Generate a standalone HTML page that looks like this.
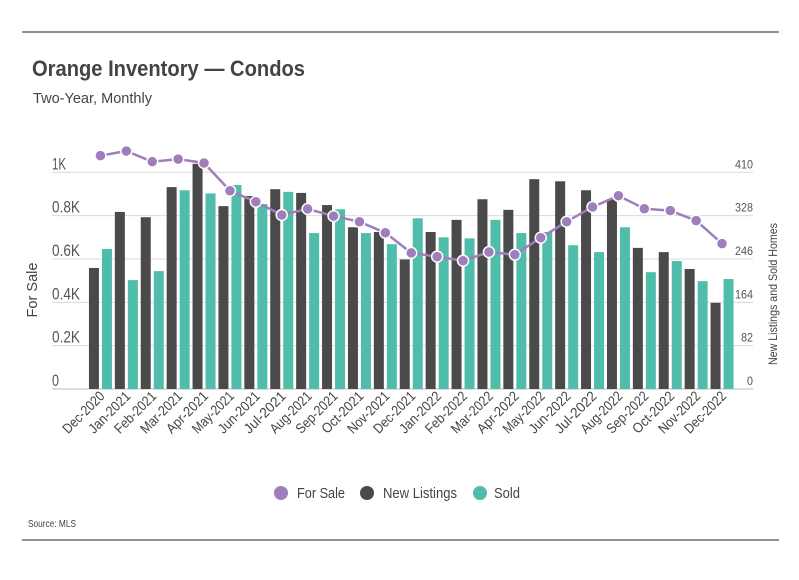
<!DOCTYPE html>
<html><head><meta charset="utf-8"><style>
body{margin:0;background:#fff;font-family:"Liberation Sans",sans-serif;}
svg text{font-family:"Liberation Sans",sans-serif;}
</style></head><body>
<svg id="c" width="799" height="575" viewBox="0 0 799 575">
<line x1="22" y1="32" x2="779" y2="32" stroke="#222" stroke-width="1"/>
<text x="32" y="76" font-size="22" font-weight="bold" fill="#444" textLength="273" lengthAdjust="spacingAndGlyphs">Orange Inventory — Condos</text>
<text x="33" y="103" font-size="15" fill="#444" textLength="119" lengthAdjust="spacingAndGlyphs">Two-Year, Monthly</text>
<text transform="translate(37,290) rotate(-90)" text-anchor="middle" font-size="15" fill="#444" textLength="55" lengthAdjust="spacingAndGlyphs">For Sale</text>
<text transform="translate(777,294) rotate(-90)" text-anchor="middle" font-size="12" fill="#444" textLength="142" lengthAdjust="spacingAndGlyphs">New Listings and Sold Homes</text>
<g id="grid"></g><g id="bars"></g><g id="line"></g><g id="xlabels"></g>
<g>
<circle cx="281" cy="493" r="7" fill="#a07dbb"/>
<text x="297" y="498" font-size="15" fill="#444" textLength="48" lengthAdjust="spacingAndGlyphs">For Sale</text>
<circle cx="367" cy="493" r="7" fill="#4a4a4a"/>
<text x="383" y="498" font-size="15" fill="#444" textLength="74" lengthAdjust="spacingAndGlyphs">New Listings</text>
<circle cx="480" cy="493" r="7" fill="#50bcaa"/>
<text x="494" y="498" font-size="15" fill="#444" textLength="26" lengthAdjust="spacingAndGlyphs">Sold</text>
</g>
<text x="28" y="527" font-size="10" fill="#444" textLength="48" lengthAdjust="spacingAndGlyphs">Source:  MLS</text>
<line x1="22" y1="540" x2="779" y2="540" stroke="#222" stroke-width="1"/>
</svg>
<script>
const months=["Dec-2020","Jan-2021","Feb-2021","Mar-2021","Apr-2021","May-2021","Jun-2021","Jul-2021","Aug-2021","Sep-2021","Oct-2021","Nov-2021","Dec-2021","Jan-2022","Feb-2022","Mar-2022","Apr-2022","May-2022","Jun-2022","Jul-2022","Aug-2022","Sep-2022","Oct-2022","Nov-2022","Dec-2022"];
const forSale=[1077,1098,1049,1061,1043,915,864,803,831,798,772,721,628,611,592,632,620,698,772,840,892,832,823,777,671];
const newListings=[229,335,325,382,426,346,365,378,371,348,306,297,245,297,320,359,339,397,393,376,359,267,259,227,163];
const sold=[265,206,223,376,370,386,350,373,295,340,295,274,323,287,285,320,295,297,272,259,306,221,242,204,208];
const leftTicks=[0,200,400,600,800,1000];
const leftTickLabels=["0","0.2K","0.4K","0.6K","0.8K","1K"];
const rightTicks=[0,82,164,246,328,410];
const NS="http://www.w3.org/2000/svg";
const y0=389,yTop=172.3;
const yL=v=>y0-(v/1000)*(y0-yTop);
const yR=v=>y0-(v/410)*(y0-yTop);
const band=25.9,xStart=87.5;
const xC=i=>xStart+band*i+band/2;
function mk(tag,attrs,parent){const e=document.createElementNS(NS,tag);for(const k in attrs)e.setAttribute(k,attrs[k]);parent.appendChild(e);return e;}
const grid=document.getElementById('grid');
leftTicks.forEach((t,i)=>{
  const g=mk('line',{x1:52,x2:753,y1:yL(t),y2:yL(t),stroke:i===0?'#bbb':'#d9d9d9','stroke-width':1},grid);
  
  
  const lbl=leftTickLabels[i];
  const tx=mk('text',{x:52,y:yL(t)-3,'font-size':17,fill:'#555',textLength:lbl.length*7,lengthAdjust:'spacingAndGlyphs'},grid);
  tx.textContent=lbl;
  
  
});
rightTicks.forEach(t=>{
  const s=String(t);
  const tx=mk('text',{x:753,y:yR(t)-4,'font-size':12,fill:'#555','text-anchor':'end',textLength:s.length*6,lengthAdjust:'spacingAndGlyphs'},grid);
  tx.textContent=s;
  
  
});
const bars=document.getElementById('bars');
months.forEach((m,i)=>{
  const c=xC(i);
  const b1=mk('rect',{x:c-11.5,y:yR(newListings[i]),width:10,height:y0-yR(newListings[i]),fill:'#4a4a4a'},bars);
  
  
  const b2=mk('rect',{x:c+1.5,y:yR(sold[i]),width:10,height:y0-yR(sold[i]),fill:'#50bcaa'},bars);
  
  
  const t=mk('text',{transform:`translate(${c+5},397) rotate(-45)`,'text-anchor':'end','font-size':14,fill:'#444',textLength:m.length*6.6,lengthAdjust:'spacingAndGlyphs'},document.getElementById('xlabels'));
  t.textContent=m;
  
  
});
const lg=document.getElementById('line');
const pl=mk('polyline',{points:forSale.map((v,i)=>xC(i)+','+yL(v)).join(' '),fill:'none',stroke:'#a07dbb','stroke-width':2.5},lg);


forSale.forEach((v,i)=>{
  const p=mk('circle',{cx:xC(i),cy:yL(v),r:5.5,fill:'#a07dbb',stroke:'#fff','stroke-width':1.5},lg);
  
  
});
</script>
</body></html>
